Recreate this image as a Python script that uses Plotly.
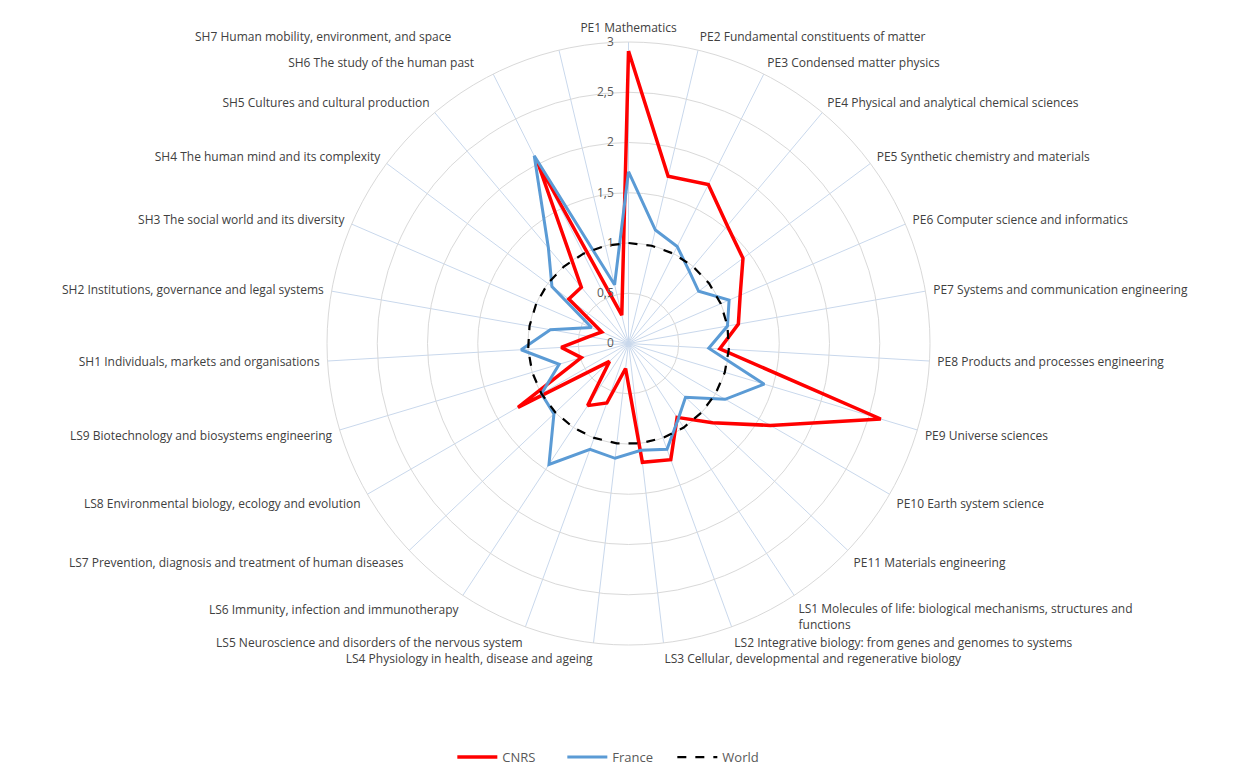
import plotly.graph_objects as go

categories = [
    "PE1 Mathematics",
    "PE2 Fundamental constituents of matter",
    "PE3 Condensed matter physics",
    "PE4 Physical and analytical chemical sciences",
    "PE5 Synthetic chemistry and materials",
    "PE6 Computer science and informatics",
    "PE7 Systems and communication engineering",
    "PE8 Products and processes engineering",
    "PE9 Universe sciences",
    "PE10 Earth system science",
    "PE11 Materials engineering",
    "LS1 Molecules of life: biological mechanisms, structures and functions",
    "LS2 Integrative biology: from genes and genomes to systems",
    "LS3 Cellular, developmental and regenerative biology",
    "LS4 Physiology in health, disease and ageing",
    "LS5 Neuroscience and disorders of the nervous system",
    "LS6 Immunity, infection and immunotherapy",
    "LS7 Prevention, diagnosis and treatment of human diseases",
    "LS8 Environmental biology, ecology and evolution",
    "LS9 Biotechnology and biosystems engineering",
    "SH1 Individuals, markets and organisations",
    "SH2 Institutions, governance and legal systems",
    "SH3 The social world and its diversity",
    "SH4 The human mind and its complexity",
    "SH5 Cultures and cultural production",
    "SH6 The study of the human past",
    "SH7 Human mobility, environment, and space",
]

cnrs = [2.91, 1.71, 1.77, 1.53, 1.42, 1.21, 1.11, 0.91, 2.62, 1.63, 1.15,
        0.88, 1.23, 1.19, 0.25, 0.63, 0.74, 0.26, 1.27, 0.49,
        0.67, 0.40, 0.29, 0.74, 0.73, 2.01, 0.29]

france = [1.71, 1.16, 1.08, 0.94, 0.87, 1.09, 1.00, 0.80, 1.41, 1.11, 0.78,
          0.90, 1.12, 1.07, 1.15, 1.12, 1.44, 1.02, 1.00, 0.72,
          1.07, 0.79, 0.40, 0.95, 1.24, 2.09, 0.60]

world = [1, 1, 1, 1, 1, 1, 1, 1, 1, 1, 1,
         1, 1, 1, 1, 1, 1, 1, 1, 1,
         1, 1, 1, 1, 1, 1, 1]

NB = "\u00a0"

# displayed labels: same names, with the wrap / nudges Excel gave them
tick_labels = list(categories)
tick_labels[11] = "LS1 Molecules of life: biological mechanisms, structures and<br>functions"
tick_labels[25] = categories[25] + NB * 5
tick_labels[26] = categories[26] + NB * 34


def closed(values):
    # radar lines have to come back to the first axis
    return list(values) + [values[0]]


theta = closed(categories)

fig = go.Figure()
fig.add_trace(go.Scatterpolar(r=closed(cnrs), theta=theta, mode="lines", name="CNRS",
                              line=dict(color="#ff0000", width=3.5)))
fig.add_trace(go.Scatterpolar(r=closed(france), theta=theta, mode="lines", name="France",
                              line=dict(color="#5b9bd5", width=3)))
fig.add_trace(go.Scatterpolar(r=closed(world), theta=theta, mode="lines", name="World",
                              line=dict(color="black", width=2.2, dash="dash")))

fig.update_layout(
    width=1247,
    height=765,
    paper_bgcolor="white",
    separators=",.",
    font=dict(family="Open Sans", size=12, color="#404040"),
    margin=dict(l=0, r=6, t=34, b=128, autoexpand=False),
    polar=dict(
        bgcolor="white",
        angularaxis=dict(
            type="category",
            categoryarray=categories,
            tickvals=categories,
            ticktext=tick_labels,
            rotation=90,
            direction="clockwise",
            gridcolor="#c9d8ec",
            showline=True,
            linecolor="#d9d9d9",
            ticks="outside",
            ticklen=5,
            tickcolor="rgba(0,0,0,0)",
            tickfont=dict(size=12, color="#404040"),
        ),
        radialaxis=dict(
            range=[0, 3],
            dtick=0.5,
            angle=90,
            tickangle=90,
            side="counterclockwise",
            showline=False,
            ticks="outside",
            ticklen=10,
            tickcolor="rgba(0,0,0,0)",
            gridcolor="#d9d9d9",
            tickfont=dict(size=12, color="#595959"),
        ),
    ),
    legend=dict(
        orientation="h",
        x=0.491,
        xanchor="center",
        y=-0.186,
        yanchor="middle",
        itemwidth=40,
        entrywidth=55,
        font=dict(size=13, color="#595959"),
    ),
)

fig.write_html("out.html")
